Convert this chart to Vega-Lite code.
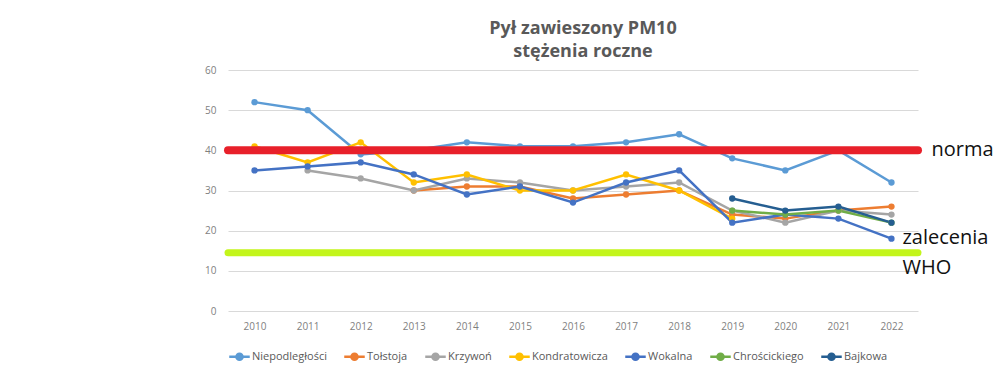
{
  "$schema": "https://vega.github.io/schema/vega-lite/v6.json",
  "width": 690,
  "height": 241,
  "autosize": {"type": "none"},
  "padding": {"left": 228, "top": 70, "right": 82, "bottom": 68},
  "background": "white",
  "config": {
    "font": "Open Sans",
    "view": {"stroke": null},
    "axis": {"labelColor": "#7f7f7f", "labelFontSize": 10, "labelFont": "Open Sans", "ticks": false, "domain": false, "gridColor": "#d9d9d9", "gridWidth": 1}
  },
  "title": {
    "text": ["Pył zawieszony PM10", "stężenia roczne"],
    "fontSize": 18,
    "fontWeight": "bold",
    "color": "#595959",
    "font": "Open Sans",
    "anchor": "middle",
    "lineHeight": 23,
    "offset": 4,
    "dx": 10
  },
  "layer": [
    {
      "data": {
        "values": [
          {"year": "2010", "station": "Niepodległości", "value": 52},
          {"year": "2011", "station": "Niepodległości", "value": 50},
          {"year": "2012", "station": "Niepodległości", "value": 39},
          {"year": "2013", "station": "Niepodległości", "value": 40},
          {"year": "2014", "station": "Niepodległości", "value": 42},
          {"year": "2015", "station": "Niepodległości", "value": 41},
          {"year": "2016", "station": "Niepodległości", "value": 41},
          {"year": "2017", "station": "Niepodległości", "value": 42},
          {"year": "2018", "station": "Niepodległości", "value": 44},
          {"year": "2019", "station": "Niepodległości", "value": 38},
          {"year": "2020", "station": "Niepodległości", "value": 35},
          {"year": "2021", "station": "Niepodległości", "value": 40},
          {"year": "2022", "station": "Niepodległości", "value": 32},
          {"year": "2013", "station": "Tołstoja", "value": 30},
          {"year": "2014", "station": "Tołstoja", "value": 31},
          {"year": "2015", "station": "Tołstoja", "value": 31},
          {"year": "2016", "station": "Tołstoja", "value": 28},
          {"year": "2017", "station": "Tołstoja", "value": 29},
          {"year": "2018", "station": "Tołstoja", "value": 30},
          {"year": "2019", "station": "Tołstoja", "value": 24},
          {"year": "2020", "station": "Tołstoja", "value": 23},
          {"year": "2021", "station": "Tołstoja", "value": 25},
          {"year": "2022", "station": "Tołstoja", "value": 26},
          {"year": "2011", "station": "Krzywoń", "value": 35},
          {"year": "2012", "station": "Krzywoń", "value": 33},
          {"year": "2013", "station": "Krzywoń", "value": 30},
          {"year": "2014", "station": "Krzywoń", "value": 33},
          {"year": "2015", "station": "Krzywoń", "value": 32},
          {"year": "2016", "station": "Krzywoń", "value": 30},
          {"year": "2017", "station": "Krzywoń", "value": 31},
          {"year": "2018", "station": "Krzywoń", "value": 32},
          {"year": "2019", "station": "Krzywoń", "value": 25},
          {"year": "2020", "station": "Krzywoń", "value": 22},
          {"year": "2021", "station": "Krzywoń", "value": 25},
          {"year": "2022", "station": "Krzywoń", "value": 24},
          {"year": "2010", "station": "Kondratowicza", "value": 41},
          {"year": "2011", "station": "Kondratowicza", "value": 37},
          {"year": "2012", "station": "Kondratowicza", "value": 42},
          {"year": "2013", "station": "Kondratowicza", "value": 32},
          {"year": "2014", "station": "Kondratowicza", "value": 34},
          {"year": "2015", "station": "Kondratowicza", "value": 30},
          {"year": "2016", "station": "Kondratowicza", "value": 30},
          {"year": "2017", "station": "Kondratowicza", "value": 34},
          {"year": "2018", "station": "Kondratowicza", "value": 30},
          {"year": "2019", "station": "Kondratowicza", "value": 23},
          {"year": "2010", "station": "Wokalna", "value": 35},
          {"year": "2011", "station": "Wokalna", "value": 36},
          {"year": "2012", "station": "Wokalna", "value": 37},
          {"year": "2013", "station": "Wokalna", "value": 34},
          {"year": "2014", "station": "Wokalna", "value": 29},
          {"year": "2015", "station": "Wokalna", "value": 31},
          {"year": "2016", "station": "Wokalna", "value": 27},
          {"year": "2017", "station": "Wokalna", "value": 32},
          {"year": "2018", "station": "Wokalna", "value": 35},
          {"year": "2019", "station": "Wokalna", "value": 22},
          {"year": "2020", "station": "Wokalna", "value": 24},
          {"year": "2021", "station": "Wokalna", "value": 23},
          {"year": "2022", "station": "Wokalna", "value": 18},
          {"year": "2019", "station": "Chrościckiego", "value": 25},
          {"year": "2020", "station": "Chrościckiego", "value": 24},
          {"year": "2021", "station": "Chrościckiego", "value": 25},
          {"year": "2022", "station": "Chrościckiego", "value": 22},
          {"year": "2019", "station": "Bajkowa", "value": 28},
          {"year": "2020", "station": "Bajkowa", "value": 25},
          {"year": "2021", "station": "Bajkowa", "value": 26},
          {"year": "2022", "station": "Bajkowa", "value": 22}
        ]
      },
      "mark": {"type": "line", "strokeWidth": 2.5, "point": {"filled": true, "size": 40}},
      "encoding": {
        "x": {"field": "year", "type": "ordinal", "title": null, "scale": {"type": "point", "padding": 0.5}, "axis": {"labelAngle": 0, "labelPadding": 10, "grid": false}},
        "y": {"field": "value", "type": "quantitative", "title": null, "scale": {"domain": [0, 60]}, "axis": {"values": [0, 10, 20, 30, 40, 50, 60], "labelPadding": 12}},
        "color": {
          "field": "station",
          "type": "nominal",
          "scale": {
            "domain": ["Niepodległości", "Tołstoja", "Krzywoń", "Kondratowicza", "Wokalna", "Chrościckiego", "Bajkowa"],
            "range": ["#5B9BD5", "#ED7D31", "#A5A5A5", "#FFC000", "#4472C4", "#70AD47", "#255E91"]
          },
          "legend": {
            "title": null,
            "orient": "bottom",
            "direction": "horizontal",
            "offset": 14,
            "labelFontSize": 11,
            "labelColor": "#595959",
            "labelFont": "Open Sans",
            "symbolType": "M-1,0H1M-0.3,0a0.3,0.3 0 1,0 0.6,0a0.3,0.3 0 1,0 -0.6,0",
            "symbolSize": 420,
            "symbolStrokeWidth": 2.5,
            "labelOffset": 1,
            "columnPadding": 12,
            "encode": {"symbols": {"update": {"fill": {"scale": "color", "field": "value"}, "stroke": {"scale": "color", "field": "value"}}}}
          }
        }
      }
    },
    {
      "data": {"values": [{"limit": "norma", "level": 40}]},
      "mark": {"type": "rule", "color": "#E8202A", "strokeWidth": 8, "strokeCap": "round"},
      "encoding": {"y": {"field": "level", "type": "quantitative"}}
    },
    {
      "data": {"values": [{"limit": "WHO", "level": 14.5}]},
      "mark": {"type": "rule", "color": "#C3F51B", "strokeWidth": 7, "strokeCap": "round"},
      "encoding": {"y": {"field": "level", "type": "quantitative"}}
    },
    {
      "data": {"values": [{"label": "norma", "year": "2022", "pos": 40}]},
      "mark": {"type": "text", "align": "left", "baseline": "middle", "fontSize": 20, "font": "Open Sans", "fill": "#111111", "dx": 40},
      "encoding": {"x": {"field": "year", "type": "ordinal"}, "y": {"field": "pos", "type": "quantitative"}, "text": {"field": "label"}}
    },
    {
      "data": {"values": [{"label": ["zalecenia", "WHO"], "year": "2022", "pos": 18.2}]},
      "mark": {"type": "text", "align": "left", "baseline": "middle", "fontSize": 20, "font": "Open Sans", "fill": "#111111", "dx": 11, "lineHeight": 30},
      "encoding": {"x": {"field": "year", "type": "ordinal"}, "y": {"field": "pos", "type": "quantitative"}, "text": {"field": "label"}}
    }
  ]
}
